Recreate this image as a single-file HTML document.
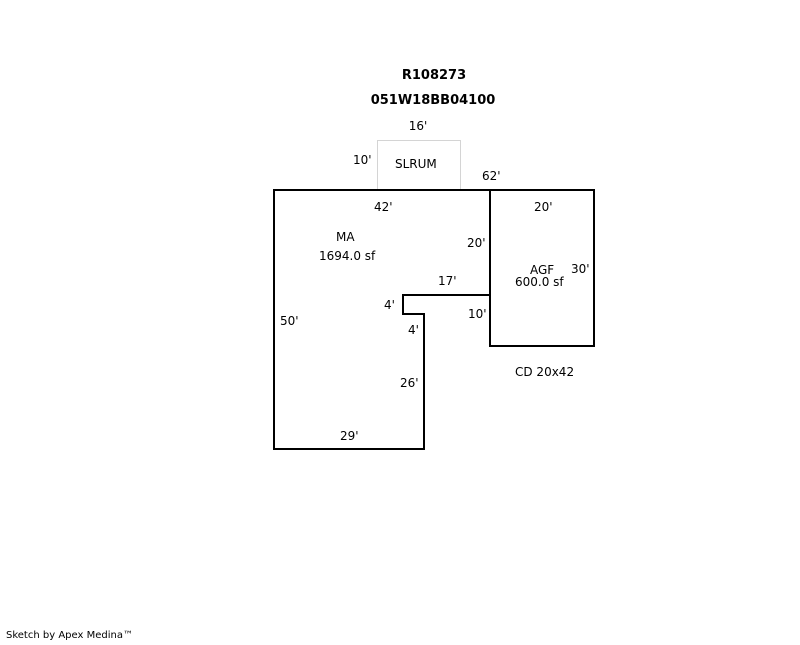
<!DOCTYPE html>
<html><head><meta charset="utf-8"><style>
body{margin:0;background:#fff;width:800px;height:640px;overflow:hidden}
svg text{font-family:"DejaVu Sans","Liberation Sans",sans-serif;font-size:12px;fill:#000}
</style></head><body>
<svg width="800" height="640" viewBox="0 0 800 640">
<rect x="377.5" y="140.5" width="83" height="50" fill="none" stroke="#aaa" stroke-width="1" stroke-dasharray="1,1"/>
<polygon points="274,190 490,190 490,295 403,295 403,314 424,314 424,449 274,449" fill="none" stroke="#000" stroke-width="2"/>
<rect x="490" y="190" width="104" height="156" fill="none" stroke="#000" stroke-width="2"/>
<text x="434" y="79" text-anchor="middle" font-weight="bold" style="font-size:13px">R108273</text>
<text x="433" y="104" text-anchor="middle" font-weight="bold" style="font-size:13px">051W18BB04100</text>
<text x="418" y="130" text-anchor="middle">16'</text>
<text x="353" y="164">10'</text>
<text x="395" y="168">SLRUM</text>
<text x="482" y="180">62'</text>
<text x="374" y="211">42'</text>
<text x="336" y="241">MA</text>
<text x="319" y="260">1694.0 sf</text>
<text x="467" y="247">20'</text>
<text x="438" y="285">17'</text>
<text x="384" y="309">4'</text>
<text x="408" y="334">4'</text>
<text x="468" y="318">10'</text>
<text x="280" y="325">50'</text>
<text x="400" y="387">26'</text>
<text x="340" y="440">29'</text>
<text x="534" y="211">20'</text>
<text x="530" y="274">AGF</text>
<text x="571" y="273">30'</text>
<text x="515" y="286">600.0 sf</text>
<text x="515" y="376">CD 20x42</text>
<text x="6" y="638" style="font-size:10px">Sketch by Apex Medina™</text>
</svg>
</body></html>
